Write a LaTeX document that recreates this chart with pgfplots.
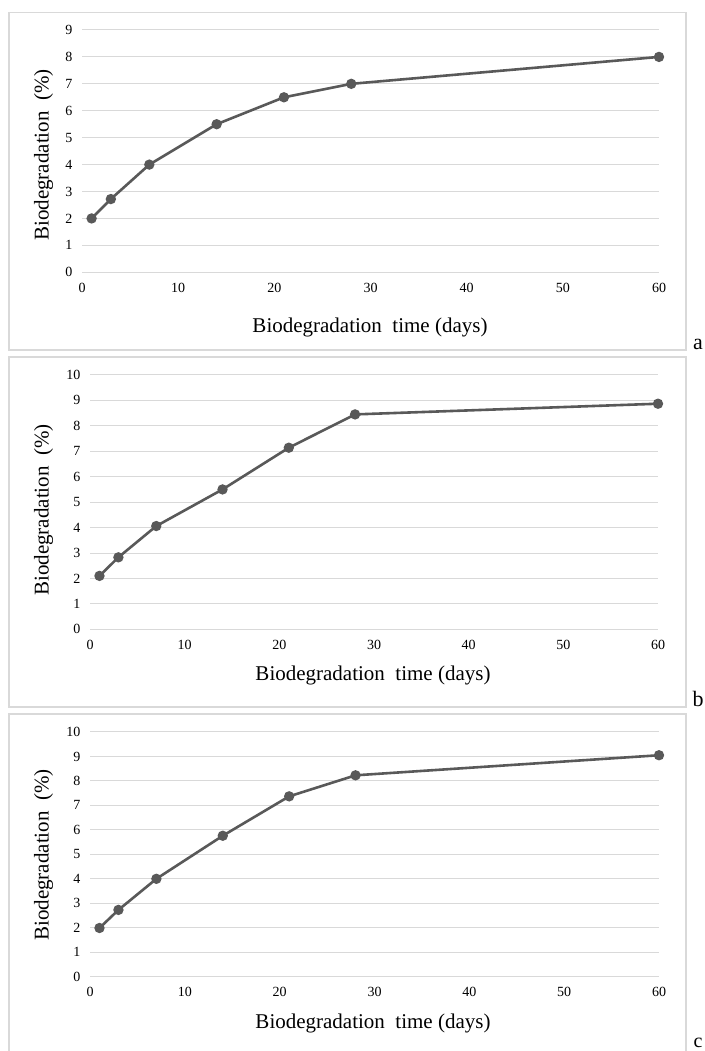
\documentclass[border=0pt]{standalone}
\usepackage{fontspec}
\setmainfont{Liberation Serif}
\usepackage{pgfplots}
\pgfplotsset{compat=1.18}
\definecolor{linegray}{HTML}{595959}
\definecolor{gridgray}{HTML}{D9D9D9}

\pgfplotsset{panel/.style={
  scale only axis, clip=false,
  xmin=0, xmax=60, ymin=0, xtick={0,10,...,60}, ytick distance=1,
  axis line style={draw=none}, major tick length=0,
  ymajorgrids, grid style={gridgray, line width=1pt},
  tick label style={font=\fontsize{14}{16}\selectfont},
  /pgf/number format/assume math mode=true,
  xticklabel style={yshift=-7pt},
  yticklabel style={xshift=-6pt},
}}
\tikzset{curve/.style={linegray, line width=2.6pt, mark=*, mark size=3.8pt, mark options={fill=linegray, solid}}}

\begin{document}
\begin{tikzpicture}[x=1pt,y=1pt]
\useasboundingbox (0,0) rectangle (704,1051);
\tikzset{lab/.style={font=\fontsize{21}{24}\selectfont}}

% panel a
\draw[gridgray, line width=1.2pt] (9,701) rectangle (686,1038.3);
\begin{axis}[panel, at={(82pt,778.7pt)}, anchor=south west, width=577pt, height=242.3pt, ymax=9]
\addplot[curve] coordinates {(1,2.0) (3,2.72) (7,4.0) (14,5.5) (21,6.5) (28,7.0) (60,8.0)};
\end{axis}
\node[lab] at (370,724) {Biodegradation\ \ time (days)};
\node[lab, rotate=90] at (43.5,896) {Biodegradation\ \ (\%)};
\node[font=\fontsize{22}{24}\selectfont, anchor=base] at (698,701) {a};

% panel b
\draw[gridgray, line width=1.2pt] (9,344) rectangle (686,694);
\begin{axis}[panel, at={(90pt,421.7pt)}, anchor=south west, width=568pt, height=254.3pt, ymax=10]
\addplot[curve] coordinates {(1,2.1) (3,2.83) (7,4.06) (14,5.5) (21,7.14) (28,8.45) (60,8.87)};
\end{axis}
\node[lab] at (373,376) {Biodegradation\ \ time (days)};
\node[lab, rotate=90] at (43.5,541) {Biodegradation\ \ (\%)};
\node[font=\fontsize{22}{24}\selectfont, anchor=base] at (698,344) {b};

% panel c
\draw[gridgray, line width=1.2pt] (9,-10) rectangle (686,337);
\begin{axis}[panel, at={(90pt,74.3pt)}, anchor=south west, width=569pt, height=244.7pt, ymax=10]
\addplot[curve] coordinates {(1,1.99) (3,2.73) (7,4.0) (14,5.76) (21,7.37) (28,8.23) (60,9.05)};
\end{axis}
\node[lab] at (373,28) {Biodegradation\ \ time (days)};
\node[lab, rotate=90] at (43.5,196) {Biodegradation\ \ (\%)};
\node[font=\fontsize{20}{22}\selectfont, inner sep=0pt, anchor=base] at (698,4) {c};
\end{tikzpicture}
\end{document}
